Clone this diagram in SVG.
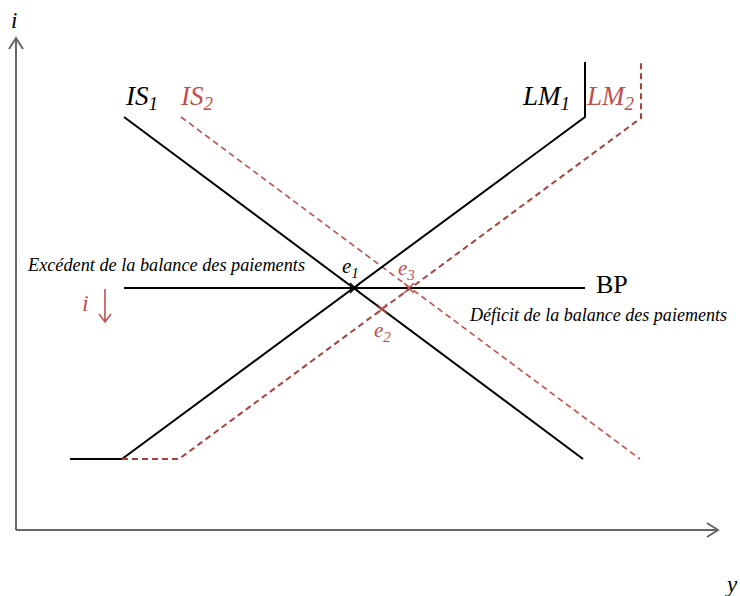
<svg xmlns="http://www.w3.org/2000/svg" width="740" height="596" viewBox="0 0 740 596">
<style>
.axis{stroke:#666;stroke-width:2;fill:none}
.blk{stroke:#000;stroke-width:2;fill:none}
.is2{stroke:#c0504d;stroke-width:1.6;fill:none;stroke-dasharray:6 4}
.lm2{stroke:#a8403f;stroke-width:2;fill:none;stroke-dasharray:6 4}
.t{font-family:"Liberation Serif",serif;font-style:italic}
.red{fill:#c0504d}
.mk{stroke-width:1.5;fill:none}
</style>
<rect width="740" height="596" fill="#fff"/>
<g id="axes">
<path class="axis" d="M16 530 V38 M16 530 H718"/>
<path class="axis" d="M9 49 L16 38 L23 49 M707 523 L718 530 L707 537"/>
<text class="t" x="11" y="28" font-size="23">i</text>
<text class="t" x="727" y="592" font-size="23">y</text>
</g>
<g id="connectors">
<path class="blk" d="M124 117 L583 459"/>
<path class="is2" d="M181 117 L640 459"/>
<path class="blk" d="M70 459 H122 L585 117 V62"/>
<path class="lm2" d="M122 459 H179 L641 118 V63"/>
<path class="blk" d="M124 288 H585"/>
</g>
<g id="IS1"><text class="t" x="126" y="105" font-size="27">IS<tspan font-size="19" dy="5">1</tspan></text></g>
<g id="IS2"><text class="t red" x="181" y="105" font-size="27">IS<tspan font-size="19" dy="5">2</tspan></text></g>
<g id="LM1"><text class="t" x="523" y="105" font-size="27">LM<tspan font-size="19" dy="5">1</tspan></text></g>
<g id="LM2"><text class="t red" x="587" y="105" font-size="27">LM<tspan font-size="19" dy="5">2</tspan></text></g>
<g id="BP"><text x="596" y="293" font-family="Liberation Serif,serif" font-size="26">BP</text></g>
<g id="e1">
<path class="mk" stroke="#000" d="M350 283 L360 293 M360 283 L350 293"/>
<text class="t" x="342" y="273" font-size="21">e<tspan font-size="15" dy="5">1</tspan></text>
</g>
<g id="e3">
<path class="mk" stroke="#c0504d" d="M404 283 L414 293 M414 283 L404 293"/>
<text class="t red" x="398" y="275" font-size="21">e<tspan font-size="15" dy="5">3</tspan></text>
</g>
<g id="e2">
<path class="mk" stroke="#c0504d" d="M377 304 L387 314 M387 304 L377 314"/>
<text class="t red" x="374" y="337" font-size="21">e<tspan font-size="15" dy="5">2</tspan></text>
</g>
<g id="excedent"><text class="t" x="28" y="271" font-size="18" textLength="277" lengthAdjust="spacingAndGlyphs">Excédent de la balance des paiements</text></g>
<g id="deficit"><text class="t" x="470" y="321" font-size="18" textLength="257" lengthAdjust="spacingAndGlyphs">Déficit de la balance des paiements</text></g>
<g id="idown">
<text class="t red" x="82" y="311" font-size="24">i</text>
<path d="M105 289 V322 M99 314 L105 322 L111 314" stroke="#c0504d" stroke-width="1.6" fill="none"/>
</g>
</svg>
